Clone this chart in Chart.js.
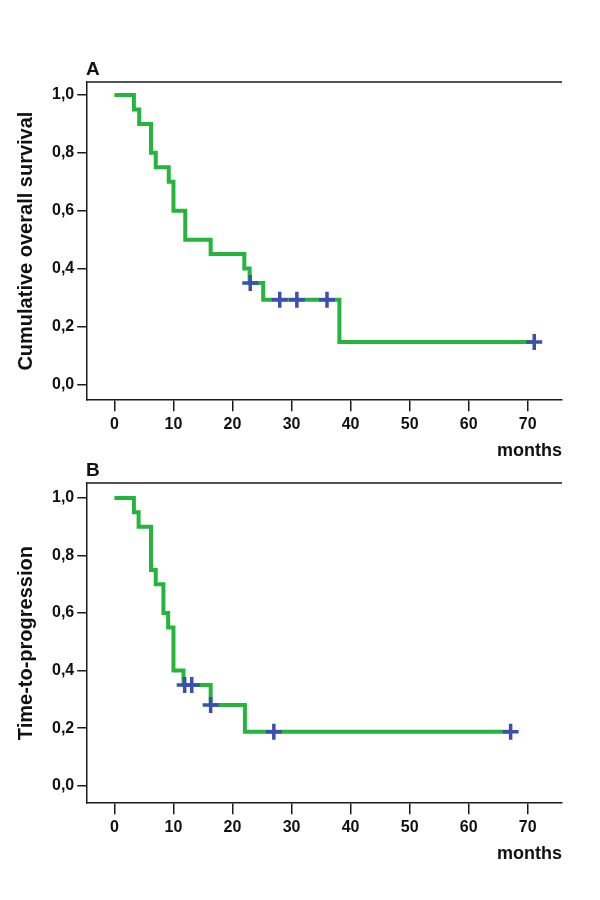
<!DOCTYPE html>
<html>
<head>
<meta charset="utf-8">
<script src="https://cdn.jsdelivr.net/npm/chart.js@4.4.1/dist/chart.umd.min.js"></script>
<style>
  body { margin: 0; background: #fff; width: 600px; height: 900px; position: relative; overflow: hidden; }
  .wrap { position: absolute; left: 0; width: 600px; }
  .panel { position: absolute; font: bold 19px "Liberation Sans", Arial, sans-serif; color: #111; }
</style>
</head>
<body>
<div class="wrap" style="top:0;height:470px"><canvas id="chartA"></canvas></div>
<div class="wrap" style="top:430px;height:470px"><canvas id="chartB"></canvas></div>
<div class="panel" style="left:86px;top:58px">A</div>
<div class="panel" style="left:86px;top:459px">B</div>
<script>
// Panel A - overall survival (Kaplan-Meier)
const timesA = [0, 3.3, 4.2, 6.2, 7.0, 9.2, 10.0, 12.0, 16.3, 22.0, 22.9, 25.2, 38.1, 71.1];
const survA = [1.0, 0.95, 0.90, 0.80, 0.75, 0.70, 0.60, 0.50, 0.45, 0.40, 0.35, 0.292, 0.146, 0.146];
const censorTimesA = [23.0, 28.0, 30.9, 36.0, 71.1];
const censorSurvA = [0.35, 0.292, 0.292, 0.292, 0.146];

// Panel B - time to progression
const timesB = [0, 3.3, 4.1, 6.2, 7.0, 8.3, 9.1, 10.0, 11.7, 16.3, 22.1, 67.1];
const survB = [1.0, 0.95, 0.90, 0.75, 0.70, 0.60, 0.55, 0.40, 0.35, 0.28, 0.187, 0.187];
const censorTimesB = [11.9, 13.1, 16.3, 27.0, 67.1];
const censorSurvB = [0.35, 0.35, 0.28, 0.187, 0.187];

const xTicks = [0, 10, 20, 30, 40, 50, 60, 70];
const yTicks = [0, 0.2, 0.4, 0.6, 0.8, 1.0];

const FONT = '"Liberation Sans", Arial, sans-serif';
const GREEN = '#25b43c';
const BLUE = '#3b4fae';
const AXIS = '#1a1a1a';

// linea superior del recuadro
const topLine = {
    id: 'topLine',
    afterDraw(chart) {
        const { ctx, chartArea } = chart;
        ctx.save();
        ctx.strokeStyle = AXIS;
        ctx.lineWidth = 1.5;
        ctx.beginPath();
        ctx.moveTo(chartArea.left, chartArea.top);
        ctx.lineTo(chartArea.right, chartArea.top);
        ctx.stroke();
        ctx.restore();
    }
};

function pts(xs, ys) {
    return xs.map((x, i) => ({ x: x, y: ys[i] }));
}

function makeChart(id, times, surv, cTimes, cSurv, yTitle, yMin, yMax, pad) {
    const ctx = document.getElementById(id).getContext('2d');
    return new Chart(ctx, {
        type: 'line',
        data: {
            datasets: [{
                data: pts(times, surv),
                borderColor: GREEN,
                borderWidth: 4,
                stepped: 'before',
                pointRadius: 0,
                fill: false,
                order: 2
            }, {
                type: 'scatter',
                data: pts(cTimes, cSurv),
                pointStyle: 'cross',
                pointRadius: 8,
                borderColor: BLUE,
                borderWidth: 3.5,
                showLine: false,
                order: 1
            }]
        },
        options: {
            responsive: true,
            maintainAspectRatio: false,
            animation: false,
            layout: { padding: pad },
            plugins: { legend: { display: false }, tooltip: { enabled: false } },
            scales: {
                x: {
                    type: 'linear',
                    min: -4.6,
                    max: 75.8,
                    afterBuildTicks: (axis) => { axis.ticks = xTicks.map(v => ({ value: v })); },
                    ticks: { color: '#111', font: { family: FONT, size: 16, weight: 'bold' }, padding: 4, maxRotation: 0 },
                    grid: { drawOnChartArea: false, drawTicks: true, tickLength: 11, color: AXIS, lineWidth: 1.5 },
                    border: { display: true, color: AXIS, width: 1.5 },
                    title: { display: true, text: 'months', align: 'end', color: '#111',
                             font: { family: FONT, size: 18, weight: 'bold' }, padding: { top: 2, bottom: 0 } }
                },
                y: {
                    min: yMin,
                    max: yMax,
                    afterBuildTicks: (axis) => { axis.ticks = yTicks.map(v => ({ value: v })); },
                    ticks: { color: '#111', font: { family: FONT, size: 16, weight: 'bold' }, padding: 3,
                             callback: (v) => v.toFixed(1).replace('.', ',') },
                    grid: { drawOnChartArea: false, drawTicks: true, tickLength: 10, color: AXIS, lineWidth: 1.5 },
                    border: { display: true, color: AXIS, width: 1.5 },
                    title: { display: true, text: yTitle, color: '#111',
                             font: { family: FONT, size: 20, weight: 'bold' }, padding: { top: 0, bottom: 11 } }
                }
            }
        },
        plugins: [topLine]
    });
}

makeChart('chartA', timesA, survA, censorTimesA, censorSurvA, 'Cumulative overall survival',
    -0.055, 1.045, { top: 82, left: 14, right: 38, bottom: 8 });
makeChart('chartB', timesB, survB, censorTimesB, censorSurvB, 'Time-to-progression',
    -0.061, 1.052, { top: 53, left: 14, right: 38, bottom: 35 });
</script>
</body>
</html>
